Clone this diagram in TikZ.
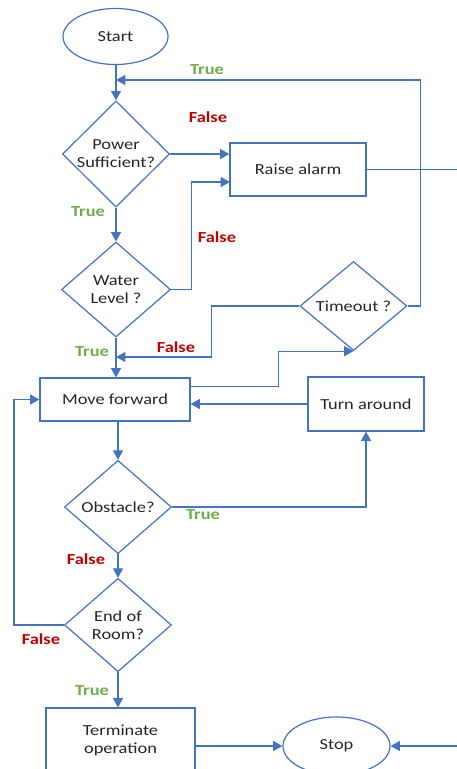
\documentclass[tikz,border=0pt]{standalone}
\usepackage{fontspec}
\setmainfont{Carlito}[FakeStretch=1.2]
\usetikzlibrary{shapes.geometric,arrows.meta}
\definecolor{lblue}{HTML}{4472C4}
\definecolor{tgreen}{HTML}{70AD47}
\definecolor{fred}{HTML}{C00000}
\begin{document}
\begin{tikzpicture}[x=0.75pt,y=-0.75pt,
  every node/.style={font=\fontsize{11.5}{13.5}\selectfont, text=black!85},
  proc/.style={draw=lblue, line width=0.9pt, rectangle, inner sep=0pt, align=center},
  dec/.style={draw=lblue, line width=0.9pt, diamond, inner sep=0pt, align=center, minimum width=80.25pt, minimum height=70pt},
  term/.style={draw=lblue, line width=0.9pt, ellipse, inner sep=0pt},
  conn/.style={draw=lblue, line width=0.9pt, -{Triangle[length=7pt,width=7.5pt]}},
  ln/.style={draw=lblue, line width=0.9pt},
  tl/.style={text=tgreen, font=\fontsize{11.5}{13.5}\selectfont\bfseries},
  fl/.style={text=fred, font=\fontsize{11.5}{13.5}\selectfont\bfseries}]
\useasboundingbox (0,0) rectangle (457,769);
\clip (0,0) rectangle (457,769);

% nodes
\node[term, minimum width=78.75pt, minimum height=42pt] (start) at (115.5,36.5) {Start};
\node[dec] (power) at (116,154) {Power\\Sufficient?};
\node[proc, minimum width=102pt, minimum height=39.75pt] (alarm) at (298,169.5) {Raise alarm};
\node[dec, minimum width=81.75pt, minimum height=71.25pt] (water) at (116,289.5) {Water\\Level ?};
\node[dec, minimum height=66.75pt] (timeout) at (353.5,306) {Timeout ?};
\node[proc, minimum width=112.5pt, minimum height=32.25pt] (move) at (115,399.5) {Move forward};
\node[proc, minimum width=87pt, minimum height=40.5pt] (turn) at (366,404) {Turn around};
\node[dec] (obst) at (118,507) {Obstacle?};
\node[dec] (endr) at (118,625) {End of\\Room?};
\node[proc, minimum width=111.75pt, minimum height=48pt] (termop) at (120.5,740) {Terminate\\operation};
\node[term, minimum width=80.25pt, minimum height=43.5pt] (stop) at (336.5,746) {Stop};

% helper coordinates
\coordinate (tj) at (116,80);
\coordinate (a2) at (230,182);
\coordinate (fj) at (116,357);
\coordinate (ar) at (457,171);
\coordinate (sr) at (457,746);

% connectors
\draw[conn] (start.south -| power.north) -- (power.north);
\draw[conn] (timeout.east) -- ++(13,0) |- (tj);
\draw[conn] (power.east) -- (alarm.west |- power.east);
\draw[conn] (water.east) -- ++(20,0) |- (a2);
\draw[ln] (alarm.east) -- (alarm.east -| ar);
\draw[conn] (power) -- (water);
\draw[conn] (water.south) -- (water.south |- move.north);
\draw[conn] (timeout.west) -- ++(-88,0) |- (fj);
\draw[conn] ([yshift=10pt]move.east) -- ++(88,0) |- (timeout.south);
\draw[conn] (turn.west) -- (move.east |- turn.west);
\draw[conn] (move.south -| obst.north) -- (obst.north);
\draw[conn] (obst.east) -| (turn.south);
\draw[conn] (obst) -- (endr);
\draw[conn] (endr.west) -- ++(-50,0) |- (move.west);
\draw[conn] (endr.south) -- (endr.south |- termop.north);
\draw[conn] (termop.east |- stop.west) -- (stop.west);
\draw[conn] (sr) -- (stop.east);

% labels
\node[tl] (l1) at (207,70) {True};
\node[fl] (l2) at (208,117) {False};
\node[tl] (l3) at (88,212) {True};
\node[fl] (l4) at (217,237) {False};
\node[tl] (l5) at (92,352) {True};
\node[fl] (l6) at (176,347) {False};
\node[tl] (l7) at (203,515) {True};
\node[fl] (l8) at (86,559) {False};
\node[fl] (l9) at (41,639) {False};
\node[tl] (l10) at (92,691) {True};
\end{tikzpicture}
\end{document}
